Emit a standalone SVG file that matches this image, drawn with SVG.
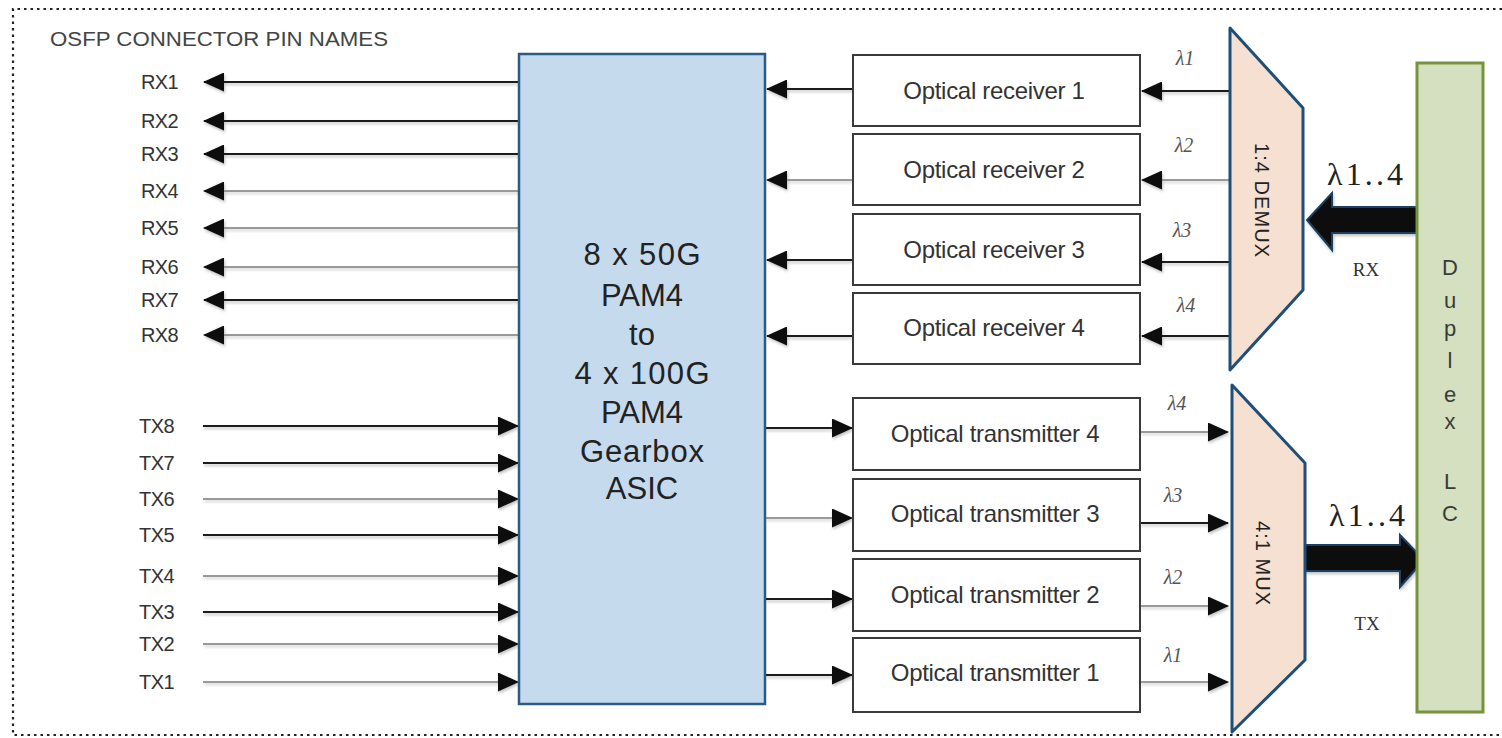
<svg xmlns="http://www.w3.org/2000/svg" width="1502" height="738" viewBox="0 0 1502 738">
<defs>
<marker id="ah" markerUnits="userSpaceOnUse" markerWidth="21" markerHeight="19" viewBox="0 0 21 19" refX="20" refY="9.5" orient="auto">
<path d="M0,0 L21,9.5 L0,19 z" fill="#111"/>
</marker>
<filter id="sh" x="-5%" y="-50%" width="110%" height="250%">
<feGaussianBlur in="SourceAlpha" stdDeviation="1.5"/>
<feOffset dx="1" dy="2" result="b"/>
<feComponentTransfer><feFuncA type="linear" slope="0.25"/></feComponentTransfer>
<feMerge><feMergeNode/><feMergeNode in="SourceGraphic"/></feMerge>
</filter>
</defs>
<style>
.dk{stroke:#1a1a1a;stroke-width:2;fill:none}
.lt{stroke:#7a7a7a;stroke-width:1.5;fill:none}
.pin{font-family:"Liberation Sans",Arial,sans-serif;font-size:20px;fill:#333;text-anchor:end;letter-spacing:-0.6px}
.box{fill:#fff;stroke:#3a3a3a;stroke-width:2}
.bt{font-family:"Liberation Sans",Arial,sans-serif;font-size:24px;fill:#333;text-anchor:middle;letter-spacing:-0.3px}
.asic{font-family:"Liberation Sans",Arial,sans-serif;font-size:31px;fill:#222;text-anchor:middle}
.lam{font-family:"Liberation Serif","Times New Roman",serif;font-style:italic;font-size:20px;fill:#555;text-anchor:middle}
.big{font-family:"Liberation Serif","Times New Roman",serif;font-size:32px;fill:#222;text-anchor:middle}
.sm{font-family:"Liberation Serif","Times New Roman",serif;font-size:19px;fill:#333;text-anchor:middle}
.trap{fill:#f5e0d1;stroke:#1f4e79;stroke-width:3;stroke-linejoin:round}
.rot{font-family:"Liberation Sans",Arial,sans-serif;font-size:20px;fill:#222;text-anchor:middle}
.dup{font-family:"Liberation Sans",Arial,sans-serif;font-size:22px;fill:#3a3a3a;text-anchor:middle}
.thick{fill:#111;stroke:#1f3f5f;stroke-width:2;stroke-linejoin:miter}
</style>
<rect width="1502" height="738" fill="#fff"/>
<path d="M1502,9 H13 V735 H1502" fill="none" stroke="#222" stroke-width="2.2" stroke-dasharray="2.5 4"/>
<text x="50" y="46" font-family="'Liberation Sans',Arial,sans-serif" font-size="20" fill="#444" textLength="338" lengthAdjust="spacingAndGlyphs">OSFP CONNECTOR PIN NAMES</text>

<g id="pins">
<text class="pin" x="178" y="89">RX1</text>
<text class="pin" x="178" y="128">RX2</text>
<text class="pin" x="178" y="161">RX3</text>
<text class="pin" x="178" y="198">RX4</text>
<text class="pin" x="178" y="235">RX5</text>
<text class="pin" x="178" y="274">RX6</text>
<text class="pin" x="178" y="307">RX7</text>
<text class="pin" x="178" y="342">RX8</text>
<text class="pin" x="174" y="433">TX8</text>
<text class="pin" x="174" y="470">TX7</text>
<text class="pin" x="174" y="506">TX6</text>
<text class="pin" x="174" y="542">TX5</text>
<text class="pin" x="174" y="583">TX4</text>
<text class="pin" x="174" y="619">TX3</text>
<text class="pin" x="174" y="651">TX2</text>
<text class="pin" x="174" y="689">TX1</text>
</g>

<g id="connectors" filter="url(#sh)">
<line class="dk" x1="519" y1="82" x2="204" y2="82" marker-end="url(#ah)"/>
<line class="dk" x1="519" y1="121" x2="204" y2="121" marker-end="url(#ah)"/>
<line class="dk" x1="519" y1="154" x2="204" y2="154" marker-end="url(#ah)"/>
<line class="lt" x1="519" y1="191" x2="204" y2="191" marker-end="url(#ah)"/>
<line class="lt" x1="519" y1="228" x2="204" y2="228" marker-end="url(#ah)"/>
<line class="lt" x1="519" y1="267" x2="204" y2="267" marker-end="url(#ah)"/>
<line class="dk" x1="519" y1="300" x2="204" y2="300" marker-end="url(#ah)"/>
<line class="lt" x1="519" y1="335" x2="204" y2="335" marker-end="url(#ah)"/>
<line class="dk" x1="203" y1="426" x2="518" y2="426" marker-end="url(#ah)"/>
<line class="dk" x1="203" y1="463" x2="518" y2="463" marker-end="url(#ah)"/>
<line class="lt" x1="203" y1="499" x2="518" y2="499" marker-end="url(#ah)"/>
<line class="dk" x1="203" y1="535" x2="518" y2="535" marker-end="url(#ah)"/>
<line class="lt" x1="203" y1="576" x2="518" y2="576" marker-end="url(#ah)"/>
<line class="dk" x1="203" y1="612" x2="518" y2="612" marker-end="url(#ah)"/>
<line class="lt" x1="203" y1="644" x2="518" y2="644" marker-end="url(#ah)"/>
<line class="lt" x1="203" y1="682" x2="518" y2="682" marker-end="url(#ah)"/>

<line class="dk" x1="853" y1="89" x2="767" y2="89" marker-end="url(#ah)"/>
<line class="lt" x1="853" y1="180" x2="767" y2="180" marker-end="url(#ah)"/>
<line class="dk" x1="853" y1="260" x2="767" y2="260" marker-end="url(#ah)"/>
<line class="dk" x1="853" y1="336" x2="767" y2="336" marker-end="url(#ah)"/>
<line class="dk" x1="1230" y1="91" x2="1142" y2="91" marker-end="url(#ah)"/>
<line class="lt" x1="1230" y1="180" x2="1142" y2="180" marker-end="url(#ah)"/>
<line class="dk" x1="1230" y1="262" x2="1142" y2="262" marker-end="url(#ah)"/>
<line class="dk" x1="1230" y1="336" x2="1142" y2="336" marker-end="url(#ah)"/>

<line class="dk" x1="765" y1="428" x2="852" y2="428" marker-end="url(#ah)"/>
<line class="lt" x1="765" y1="518" x2="852" y2="518" marker-end="url(#ah)"/>
<line class="dk" x1="765" y1="599" x2="852" y2="599" marker-end="url(#ah)"/>
<line class="dk" x1="765" y1="675" x2="852" y2="675" marker-end="url(#ah)"/>
<line class="lt" x1="1140" y1="432" x2="1228" y2="432" marker-end="url(#ah)"/>
<line class="dk" x1="1140" y1="523" x2="1228" y2="523" marker-end="url(#ah)"/>
<line class="lt" x1="1140" y1="606" x2="1228" y2="606" marker-end="url(#ah)"/>
<line class="lt" x1="1140" y1="682" x2="1228" y2="682" marker-end="url(#ah)"/>

<polygon class="thick" points="1417,207 1332,207 1332,193 1307,220 1332,250 1332,233 1417,233"/>
<polygon class="thick" points="1305,545 1400,545 1400,535 1424,560 1400,587 1400,571 1305,571"/>
</g>

<g id="asic">
<rect x="519" y="54" width="246" height="650" fill="#c6daee" stroke="#2b5a86" stroke-width="2.5"/>
<text class="asic" x="642" y="265" textLength="117">8 x 50G</text>
<text class="asic" x="642" y="306">PAM4</text>
<text class="asic" x="642" y="345">to</text>
<text class="asic" x="642" y="384" textLength="135">4 x 100G</text>
<text class="asic" x="642" y="423">PAM4</text>
<text class="asic" x="642" y="462" textLength="124">Gearbox</text>
<text class="asic" x="642" y="499">ASIC</text>
</g>

<g id="receivers">
<g id="rx1"><rect class="box" x="853" y="55" width="287" height="71"/><text class="bt" x="994" y="99">Optical receiver 1</text></g>
<g id="rx2"><rect class="box" x="853" y="134" width="287" height="71"/><text class="bt" x="994" y="178">Optical receiver 2</text></g>
<g id="rx3"><rect class="box" x="853" y="214" width="287" height="71"/><text class="bt" x="994" y="258">Optical receiver 3</text></g>
<g id="rx4"><rect class="box" x="853" y="293" width="287" height="71"/><text class="bt" x="994" y="336">Optical receiver 4</text></g>
</g>

<g id="transmitters">
<g id="tx4"><rect class="box" x="853" y="398" width="287" height="72"/><text class="bt" x="995" y="442">Optical transmitter 4</text></g>
<g id="tx3"><rect class="box" x="853" y="479" width="287" height="72"/><text class="bt" x="995" y="522">Optical transmitter 3</text></g>
<g id="tx2"><rect class="box" x="853" y="559" width="287" height="72"/><text class="bt" x="995" y="603">Optical transmitter 2</text></g>
<g id="tx1"><rect class="box" x="853" y="638" width="287" height="74"/><text class="bt" x="995" y="681">Optical transmitter 1</text></g>
</g>

<g id="lambdas">
<text class="lam" x="1185" y="65">λ1</text>
<text class="lam" x="1184" y="152">λ2</text>
<text class="lam" x="1182" y="237">λ3</text>
<text class="lam" x="1186" y="312">λ4</text>
<text class="lam" x="1177" y="410">λ4</text>
<text class="lam" x="1173" y="502">λ3</text>
<text class="lam" x="1173" y="584">λ2</text>
<text class="lam" x="1173" y="662">λ1</text>
</g>

<g id="demux">
<polygon class="trap" points="1230,28 1303,108 1303,290 1230,370"/>
<text class="rot" transform="translate(1262,200) rotate(90)" dominant-baseline="central" textLength="114">1:4 DEMUX</text>
</g>

<g id="mux">
<polygon class="trap" points="1232,385 1305,463 1305,660 1232,732"/>
<text class="rot" transform="translate(1263,563) rotate(90)" dominant-baseline="central" textLength="84">4:1 MUX</text>
</g>

<g id="rxlabel">
<text class="big" x="1365" y="185" textLength="76">λ1..4</text>
<text class="sm" x="1366" y="276">RX</text>
</g>
<g id="txlabel">
<text class="big" x="1367" y="526" textLength="76">λ1..4</text>
<text class="sm" x="1367" y="630">TX</text>
</g>

<g id="duplex">
<rect x="1417" y="63" width="66" height="649" fill="#d4e0bf" stroke="#77933c" stroke-width="3"/>
<text class="dup" x="1450" y="275">D</text>
<text class="dup" x="1450" y="308">u</text>
<text class="dup" x="1450" y="336">p</text>
<text class="dup" x="1450" y="368">l</text>
<text class="dup" x="1450" y="402">e</text>
<text class="dup" x="1450" y="429">x</text>
<text class="dup" x="1450" y="489">L</text>
<text class="dup" x="1450" y="521">C</text>
</g>
</svg>
